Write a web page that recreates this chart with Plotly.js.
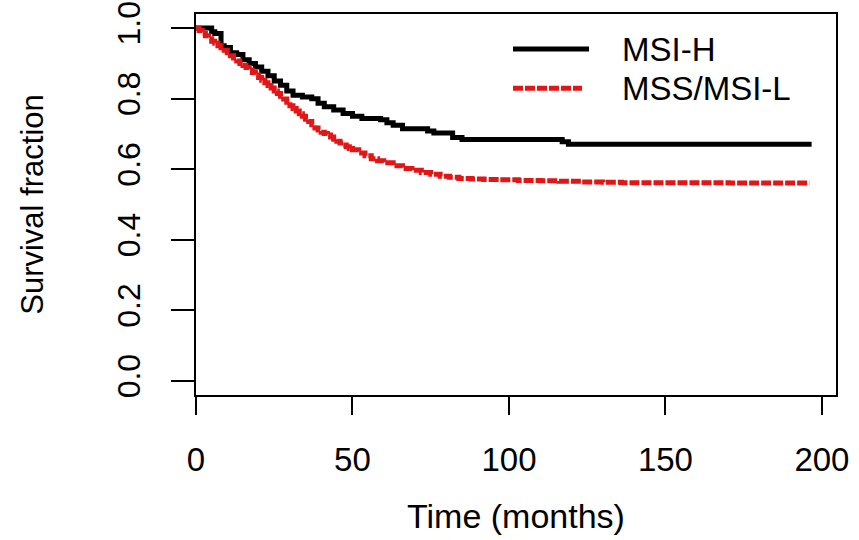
<!DOCTYPE html>
<html>
<head>
<meta charset="utf-8">
<script src="https://cdn.plot.ly/plotly-3.0.1.min.js"></script>
<style>html,body{margin:0;padding:0;background:#fff;}#chart{width:859px;height:540px;}</style>
</head>
<body>
<div id="chart"></div>
<script>
// MSI-H Kaplan-Meier curve (time in months, survival fraction)
const msiH_time = [0, 5, 6, 8, 9, 11, 13, 15, 17, 19, 21, 23, 25, 27, 29, 31, 34, 37, 39, 41, 44, 47, 50, 53, 59, 61, 63, 66, 74, 76, 82, 85, 117, 119, 196.7];
const msiH_surv = [1.0, 0.99, 0.985, 0.95, 0.945, 0.93, 0.925, 0.91, 0.90, 0.89, 0.878, 0.865, 0.85, 0.838, 0.822, 0.81, 0.805, 0.80, 0.787, 0.777, 0.768, 0.758, 0.75, 0.744, 0.74, 0.732, 0.725, 0.715, 0.708, 0.703, 0.69, 0.684, 0.678, 0.671, 0.671];

// MSS/MSI-L Kaplan-Meier curve
const mss_time = [0, 1, 2, 3, 4, 5, 6, 7, 8, 9, 10, 11, 12, 13, 14, 15, 16, 17, 18, 19, 20, 21, 22, 23, 24, 25, 26, 27, 28, 29, 30, 31, 32, 33, 34, 35, 36, 37, 38, 39, 40, 41, 42, 43, 44, 45, 46, 47, 48, 49, 50, 52, 54, 56, 58, 60, 63, 66, 69, 72, 75, 78, 81, 84, 88, 92, 97, 103, 110, 116, 123, 130, 136, 150, 170, 196];
const mss_surv = [1.0, 0.993, 0.985, 0.978, 0.97, 0.963, 0.957, 0.95, 0.944, 0.937, 0.93, 0.922, 0.915, 0.907, 0.9, 0.894, 0.888, 0.881, 0.874, 0.867, 0.86, 0.852, 0.845, 0.837, 0.83, 0.822, 0.815, 0.807, 0.799, 0.79, 0.78, 0.772, 0.765, 0.757, 0.75, 0.742, 0.735, 0.726, 0.717, 0.711, 0.705, 0.701, 0.697, 0.691, 0.685, 0.679, 0.674, 0.669, 0.664, 0.659, 0.655, 0.646, 0.638, 0.63, 0.624, 0.618, 0.61, 0.602, 0.597, 0.591, 0.586, 0.58, 0.577, 0.574, 0.572, 0.571, 0.570, 0.568, 0.567, 0.566, 0.564, 0.563, 0.562, 0.562, 0.561, 0.561];

const seriesNames = ["MSI-H", "MSS/MSI-L"];
const xTicks = [0, 50, 100, 150, 200];
const yTicks = [0.0, 0.2, 0.4, 0.6, 0.8, 1.0];
const yTickText = ["0.0", "0.2", "0.4", "0.6", "0.8", "1.0"];

const FONT = "Liberation Sans, Arial, Helvetica, sans-serif";
const RED = "rgb(226,22,22)";

const traces = [
  {x: msiH_time, y: msiH_surv, name: seriesNames[0], mode: "lines",
   line: {shape: "hv", color: "black", width: 5}},
  {x: mss_time, y: mss_surv, name: seriesNames[1], mode: "lines",
   line: {shape: "hv", color: RED, width: 5, dash: "10px,2px"}}
];

const layout = {
  width: 859, height: 540,
  margin: {l: 196, r: 23, t: 14, b: 145},
  paper_bgcolor: "white", plot_bgcolor: "white",
  showlegend: false,
  font: {family: FONT, color: "black", size: 31},
  xaxis: {
    range: [0, 204.5], tickvals: xTicks, ticktext: xTicks.map(String),
    ticks: "outside", ticklen: 18, tickwidth: 2, tickcolor: "black",
    showline: true, mirror: true, linecolor: "black", linewidth: 2,
    showgrid: false, zeroline: false,
    tickfont: {family: FONT, size: 33, color: "black"},
    ticklabelstandoff: 16,
    title: {text: "Time (months)", font: {family: FONT, size: 34, color: "black"}, standoff: 28}
  },
  yaxis: {
    range: [-0.04, 1.04], tickvals: yTicks, ticktext: yTickText, tickangle: -90,
    ticks: "outside", ticklen: 23, tickwidth: 2, tickcolor: "black",
    showline: true, mirror: true, linecolor: "black", linewidth: 2,
    showgrid: false, zeroline: false,
    tickfont: {family: FONT, size: 32, color: "black"},
    ticklabelstandoff: 18,
    title: {text: "Survival fraction", font: {family: FONT, size: 31, color: "black"}, standoff: 58}
  },
  shapes: [
    {type: "line", xref: "paper", yref: "paper", x0: 0.4953, x1: 0.6141, y0: 0.908, y1: 0.908,
     line: {color: "black", width: 5}},
    {type: "line", xref: "paper", yref: "paper", x0: 0.4953, x1: 0.6031, y0: 0.805, y1: 0.805,
     line: {color: RED, width: 5, dash: "10px,2px"}}
  ],
  annotations: [
    {xref: "paper", yref: "paper", x: 0.6625, y: 0.908, xanchor: "left", yanchor: "middle",
     text: seriesNames[0], showarrow: false, font: {family: FONT, size: 33, color: "black"}},
    {xref: "paper", yref: "paper", x: 0.6625, y: 0.805, xanchor: "left", yanchor: "middle",
     text: seriesNames[1], showarrow: false, font: {family: FONT, size: 33, color: "black"}}
  ]
};

Plotly.newPlot("chart", traces, layout, {displayModeBar: false, staticPlot: true});
</script>
</body>
</html>
